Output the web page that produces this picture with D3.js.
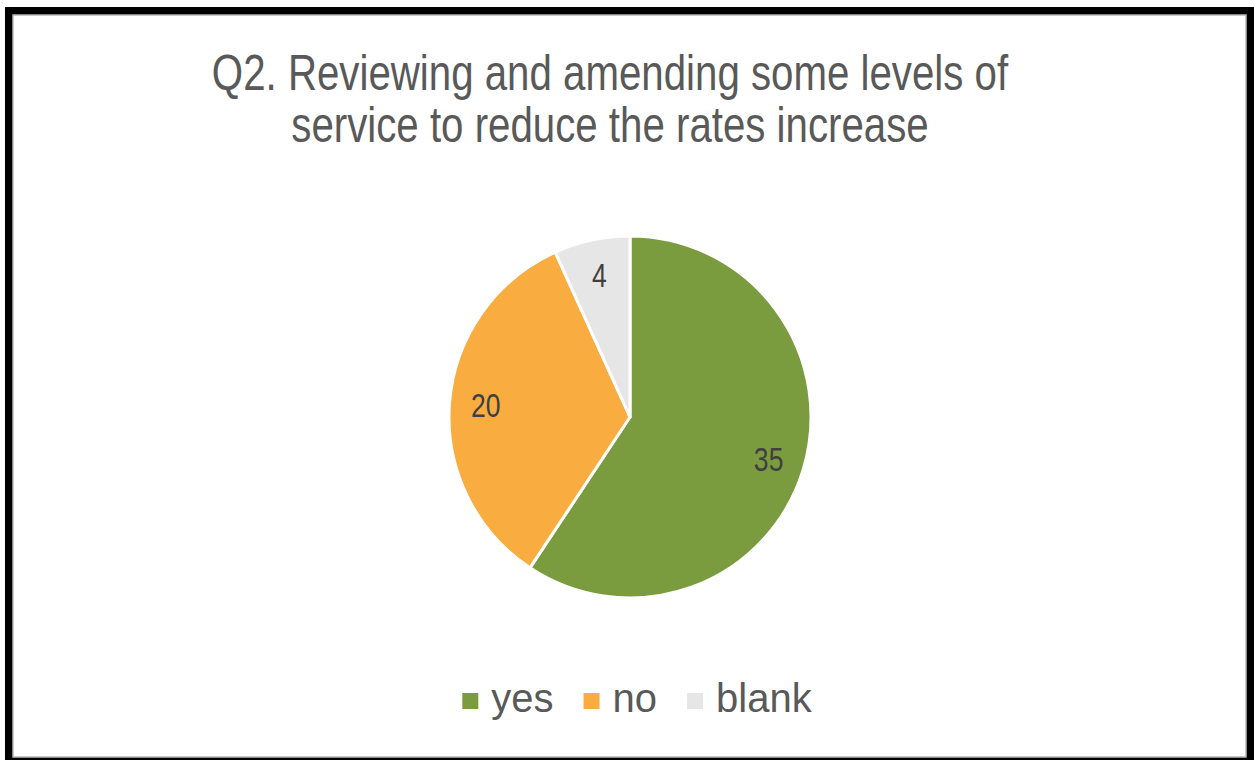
<!DOCTYPE html>
<html>
<head>
<meta charset="utf-8">
<script src="https://cdn.jsdelivr.net/npm/d3@7"></script>
<style>
  html, body { margin: 0; padding: 0; background: #fff; }
  svg { display: block; }
</style>
</head>
<body>
<svg id="chart" width="1254" height="760"></svg>
<script>
// ---- data ----
const titleLines = ["Q2. Reviewing and amending some levels of", "service to reduce the rates increase"];
const categories = ["yes", "no", "blank"];
const values = [35, 20, 4];
const colors = ["#7A9C3E", "#F9AC3F", "#E6E6E6"];

const svg = d3.select("#chart");
const W = 1254, H = 760;

// frame
svg.append("rect").attr("x", 5).attr("y", 7).attr("width", W - 5).attr("height", H - 7).attr("fill", "#000");
svg.append("rect").attr("x", 13).attr("y", 15).attr("width", 1233).attr("height", 742)
  .attr("fill", "#fff").attr("stroke", "#b8b8b8").attr("stroke-width", 1.5);

const font = "'Liberation Sans', Arial, sans-serif";
const condense = 0.805;

// title (condensed to mimic Arial Narrow)
titleLines.forEach((t, i) => {
  svg.append("text")
    .attr("transform", `translate(610,${90 + i * 52}) scale(${condense},1)`)
    .attr("text-anchor", "middle")
    .attr("font-family", font)
    .attr("font-size", 50)
    .attr("fill", "#595959")
    .text(t);
});

// pie
const cx = 630, cy = 417, r = 181;
const pie = d3.pie().sort(null).value(d => d)(values);
const arc = d3.arc().innerRadius(0).outerRadius(r);
const labelArc = d3.arc().innerRadius(r * 0.8).outerRadius(r * 0.8);
const color = d3.scaleOrdinal().domain(categories).range(colors);

const g = svg.append("g").attr("transform", `translate(${cx},${cy})`);
g.selectAll("path.slice").data(pie).join("path")
  .attr("class", "slice")
  .attr("d", arc)
  .attr("fill", (d, i) => color(categories[i]))
  .attr("stroke", "#fff")
  .attr("stroke-width", 3)
  .attr("stroke-linejoin", "round");

g.selectAll("text.lbl").data(pie).join("text")
  .attr("class", "lbl")
  .attr("transform", d => {
    const [lx, ly] = labelArc.centroid(d);
    return `translate(${lx},${ly}) scale(${condense},1)`;
  })
  .attr("text-anchor", "middle")
  .attr("dy", "0.36em")
  .attr("font-family", font)
  .attr("font-size", 33)
  .attr("fill", "#404040")
  .text(d => d.data);

// legend
const leg = svg.append("g");
const sq = 16, gapText = 13, gapItem = 30;
let x = 0;
categories.forEach((c, i) => {
  const item = leg.append("g").attr("transform", `translate(${x},0)`);
  item.append("rect").attr("x", 0).attr("y", -19).attr("width", sq).attr("height", sq).attr("fill", color(c));
  const t = item.append("text").attr("x", sq + gapText).attr("y", 0)
    .attr("font-family", font).attr("font-size", 40).attr("fill", "#595959").text(c);
  const w = t.node().getComputedTextLength();
  x += sq + gapText + w + gapItem;
});
const totalW = x - gapItem;
leg.attr("transform", `translate(${637 - totalW / 2},712)`);
</script>
</body>
</html>
